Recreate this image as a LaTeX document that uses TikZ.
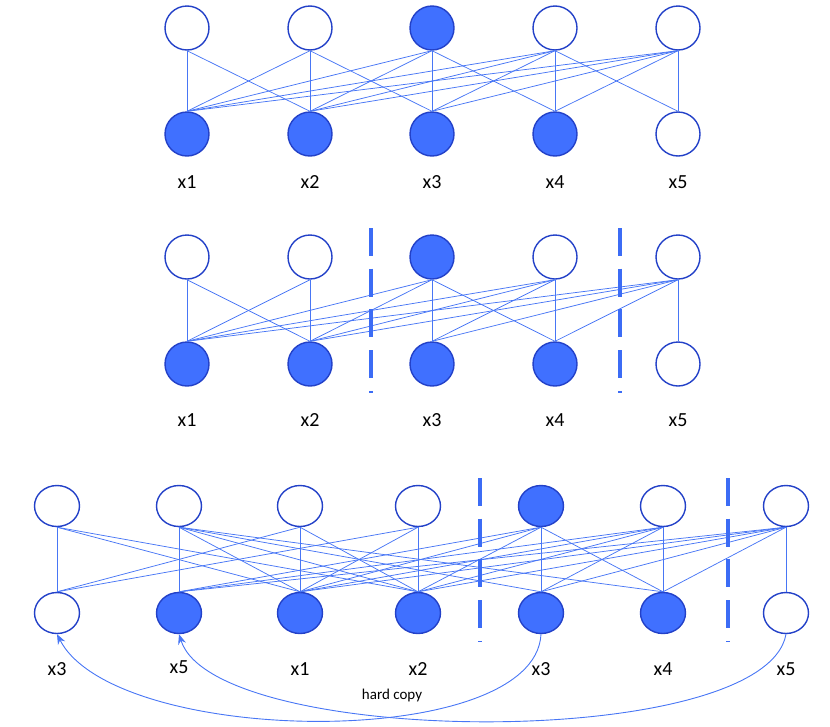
\documentclass[tikz,border=0pt]{standalone}
\usepackage{fontspec}
\setmainfont{Carlito}
\usetikzlibrary{arrows.meta,shapes.geometric}
\definecolor{edgeblue}{RGB}{72,118,245}
\definecolor{rimblue}{RGB}{35,65,200}
\definecolor{fillblue}{RGB}{64,112,255}
\definecolor{dashblue}{RGB}{60,108,245}
\begin{document}
\begin{tikzpicture}[x=1pt,y=-1pt,
  wnode/.style={circle, draw=rimblue, line width=1.4pt, fill=white, minimum size=44pt, inner sep=0pt},
  fnode/.style={wnode, fill=fillblue},
  well/.style={ellipse, draw=rimblue, line width=1.4pt, fill=white, minimum width=45pt, minimum height=41pt, inner sep=0pt},
  fell/.style={well, fill=fillblue},
  edge/.style={draw=edgeblue, line width=0.75pt},
  lab/.style={font=\fontsize{20}{24}\selectfont, inner sep=0pt},
  sep/.style={draw=dashblue, line width=3.5pt, dash pattern=on 28pt off 12.7pt},
  copyarrow/.style={draw=edgeblue, line width=0.9pt, -{Stealth[length=10pt,width=8pt]}}
]
\useasboundingbox (0,0) rectangle (830,726);

% ---------- Panel 1 ----------
\foreach \n/\x/\s in {1/187/wnode,2/310/wnode,3/432/fnode,4/555/wnode,5/678/wnode}
  \node[\s] (pa\n) at (\x,28) {};
\foreach \n/\x/\s in {1/187/fnode,2/310/fnode,3/432/fnode,4/555/fnode,5/678/wnode}
  \node[\s] (pb\n) at (\x,134) {};
\foreach \n/\x in {1/187,2/310,3/432,4/555,5/678}
  \node[lab] (pl\n) at (\x,182) {x\n};
\foreach \i/\j in {1/1,1/2, 2/1,2/2,2/3, 3/1,3/2,3/3,3/4, 4/1,4/2,4/3,4/4,4/5, 5/1,5/2,5/3,5/4,5/5}
  \draw[edge] (pa\i.south) -- (pb\j.north);

% ---------- Panel 2 ----------
\foreach \n/\x/\s in {1/187/wnode,2/310/wnode,3/432/fnode,4/555/wnode,5/678/wnode}
  \node[\s] (qa\n) at (\x,257) {};
\foreach \n/\x/\s in {1/187/fnode,2/310/fnode,3/432/fnode,4/555/fnode,5/678/wnode}
  \node[\s] (qb\n) at (\x,364) {};
\foreach \n/\x in {1/187,2/310,3/432,4/555,5/678}
  \node[lab] (ql\n) at (\x,420) {x\n};
\foreach \i/\j in {1/1,1/2, 2/1,2/2, 3/1,3/2,3/3,3/4, 4/1,4/2,4/3,4/4, 5/1,5/2,5/3,5/4,5/5}
  \draw[edge] (qa\i.south) -- (qb\j.north);
\draw[sep] (371,228) -- (371,393);
\draw[sep] (620,228) -- (620,393);

% ---------- Panel 3 ----------
\foreach \n/\x/\s in {1/57/well,2/179/well,3/300/well,4/418/well,5/541/fell,6/663/well,7/786/well}
  \node[\s] (ra\n) at (\x,506) {};
\foreach \n/\x/\s in {1/57/well,2/179/fell,3/300/fell,4/418/fell,5/541/fell,6/663/fell,7/786/well}
  \node[\s] (rb\n) at (\x,613) {};
\foreach \n/\x/\y/\t in {1/57/669/x3,2/179/667/x5,3/300/669/x1,4/418/669/x2,5/541/669/x3,6/663/669/x4,7/786/669/x5}
  \node[lab] (rl\n) at (\x,\y) {\t};
\foreach \i/\j in {1/1,1/3,1/4, 2/2,2/3,2/4,2/5,2/6, 3/1,3/3,3/4, 4/1,4/3,4/4,
                   5/2,5/3,5/4,5/5,5/6, 6/2,6/3,6/4,6/5,6/6, 7/2,7/3,7/4,7/5,7/6,7/7}
  \draw[edge] (ra\i.south) -- (rb\j.north);
\draw[sep] (480,478) -- (480,642);
\draw[sep] (728,478) -- (728,642);

\draw[copyarrow] (rb5.south) .. controls (535,752) and (115,747) .. (rb1.south);
\draw[copyarrow] (rb7.south) .. controls (765,752) and (215,748) .. (rb2.south);
\node[font=\fontsize{15}{18}\selectfont, inner sep=0pt] (hc) at (392,695) {hard copy};
\end{tikzpicture}
\end{document}
